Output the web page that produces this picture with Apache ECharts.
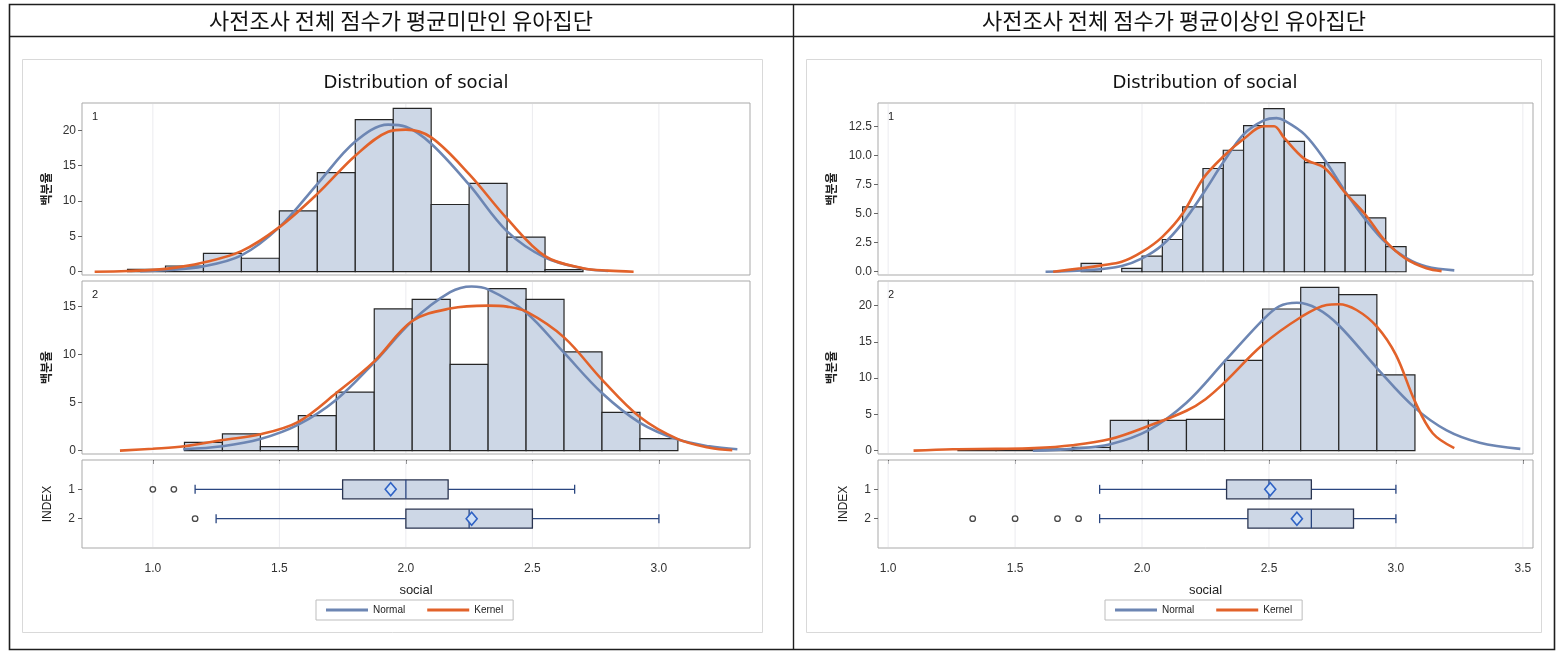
<!DOCTYPE html>
<html><head><meta charset="utf-8">
<script src="https://cdn.jsdelivr.net/npm/echarts@6/dist/echarts.min.js"></script>
<style>html,body{margin:0;padding:0;background:#fff}#c{width:1562px;height:653px}</style>
</head><body><div id="c"></div><script>
// ---------- DATA ----------
const headerLeft = '사전조사 전체 점수가 평균미만인 유아집단';
const headerRight = '사전조사 전체 점수가 평균이상인 유아집단';
const chartTitle = 'Distribution of social';
const yName = '백분율';
const boxAxisName = 'INDEX';
const xName = 'social';
const groupLabels = ['1', '2'];

// Left panel (below-average group)
const L1_edges = [0.90, 1.05, 1.20, 1.35, 1.50, 1.65, 1.80, 1.95, 2.10, 2.25, 2.40, 2.55, 2.70];
const L1_pct   = [0.33, 0.8, 2.6, 1.9, 8.6, 14.0, 21.5, 23.1, 9.5, 12.5, 4.9, 0.3];
const L1_normal = [[0.95,0.05],[1.05,0.2],[1.2,0.75],[1.35,2.3],[1.5,6.3],[1.65,12.4],[1.8,18.4],[1.93,20.8],[2.0,20.5],[2.1,18.1],[2.25,12.3],[2.4,5.7],[2.55,2.0],[2.7,0.45],[2.8,0.1]];
const L1_kernel = [[0.77,0.0],[0.9,0.1],[1.05,0.4],[1.2,1.3],[1.35,2.9],[1.5,6.3],[1.65,11.0],[1.8,16.4],[1.93,19.8],[2.0,20.1],[2.1,19.0],[2.25,13.8],[2.4,7.5],[2.55,2.2],[2.7,0.5],[2.8,0.15],[2.9,0.0]];

const L2_edges = [1.125, 1.275, 1.425, 1.575, 1.725, 1.875, 2.025, 2.175, 2.325, 2.475, 2.625, 2.775, 2.925, 3.075];
const L2_pct   = [0.87, 1.74, 0.42, 3.65, 6.1, 14.76, 15.76, 8.99, 16.88, 15.76, 10.28, 3.99, 1.25];
const L2_normal = [[1.12,0.14],[1.275,0.45],[1.425,1.2],[1.575,2.7],[1.725,5.3],[1.875,9.2],[2.025,13.5],[2.175,16.5],[2.26,17.1],[2.325,16.8],[2.475,14.4],[2.625,10.2],[2.775,6.0],[2.925,2.9],[3.075,1.15],[3.2,0.45],[3.31,0.14]];
const L2_kernel = [[0.87,0.0],[1.0,0.2],[1.125,0.45],[1.275,1.1],[1.425,1.7],[1.575,3.0],[1.725,6.0],[1.875,9.3],[2.025,13.5],[2.175,14.8],[2.325,15.1],[2.4,15.0],[2.475,14.5],[2.625,11.8],[2.775,7.4],[2.925,3.5],[3.075,1.2],[3.2,0.3],[3.29,0.05]];

// boxes: [row, whiskerLow, Q1, median, Q3, whiskerHigh, mean]
const L_boxes = [[1, 1.167, 1.75, 2.0, 2.167, 2.667, 1.94], [2, 1.25, 2.0, 2.25, 2.5, 3.0, 2.26]];
const L_outliers = [[1.0, 1], [1.083, 1], [1.167, 2]];
const L_ticks = [1.0, 1.5, 2.0, 2.5, 3.0];

// Right panel (above-average group)
const R1_edges = [1.76, 1.84, 1.92, 2.00, 2.08, 2.16, 2.24, 2.32, 2.40, 2.48, 2.56, 2.64, 2.72, 2.80, 2.88, 2.96, 3.04];
const R1_pct   = [0.72, 0, 0.29, 1.34, 2.77, 5.58, 8.87, 10.44, 12.56, 14.02, 11.21, 9.38, 9.38, 6.58, 4.63, 2.15];
const R1_normal = [[1.62,0.0],[1.8,0.15],[1.92,0.5],[2.0,1.15],[2.08,2.3],[2.16,4.2],[2.24,6.7],[2.32,9.4],[2.4,11.8],[2.48,13.0],[2.53,13.2],[2.56,13.0],[2.64,11.8],[2.72,9.6],[2.8,6.9],[2.88,4.5],[2.96,2.5],[3.04,1.2],[3.12,0.45],[3.23,0.12]];
const R1_kernel = [[1.65,0.0],[1.76,0.3],[1.84,0.55],[1.92,0.85],[2.0,1.7],[2.08,3.0],[2.16,5.0],[2.24,8.0],[2.32,9.9],[2.4,11.4],[2.48,12.5],[2.52,12.5],[2.56,11.5],[2.64,9.7],[2.72,8.9],[2.8,6.8],[2.88,4.9],[2.96,2.6],[3.04,1.1],[3.12,0.3],[3.18,0.05]];

const R2_edges = [1.275, 1.425, 1.575, 1.725, 1.875, 2.025, 2.175, 2.325, 2.475, 2.625, 2.775, 2.925, 3.075];
const R2_pct   = [0.22, 0.22, 0.22, 0.45, 4.18, 4.18, 4.32, 12.46, 19.54, 22.53, 21.52, 10.44];
const R2_normal = [[1.57,0.0],[1.725,0.25],[1.875,0.9],[2.025,2.8],[2.175,6.6],[2.325,12.3],[2.475,18.0],[2.54,19.9],[2.61,20.4],[2.69,19.6],[2.775,17.3],[2.925,11.4],[3.075,5.9],[3.2,2.8],[3.33,1.1],[3.49,0.25]];
const R2_kernel = [[1.10,0.0],[1.255,0.2],[1.425,0.25],[1.575,0.35],[1.725,0.75],[1.875,1.6],[2.025,3.4],[2.175,5.5],[2.25,7.1],[2.325,9.4],[2.475,14.6],[2.625,18.4],[2.727,20.1],[2.775,20.2],[2.845,19.4],[2.925,17.1],[3.0,13.2],[3.075,6.8],[3.145,2.4],[3.23,0.35]];

const R_boxes = [[1, 1.833, 2.333, 2.5, 2.667, 3.0, 2.505], [2, 1.833, 2.417, 2.667, 2.833, 3.0, 2.61]];
const R_outliers = [[1.333, 2], [1.5, 2], [1.667, 2], [1.75, 2]];
const R_ticks = [1.0, 1.5, 2.0, 2.5, 3.0, 3.5];

const L1_yTicks = [0, 5, 10, 15, 20];
const L2_yTicks = [0, 5, 10, 15];
const R1_yTicks = [0, 2.5, 5, 7.5, 10, 12.5];
const R2_yTicks = [0, 5, 10, 15, 20];
const boxRows = [1, 2];

// ---------- STYLE / LAYOUT ----------
const C_FILL = '#cdd7e6', C_EDGE = '#262626', C_NORMAL = '#6d86b3', C_KERNEL = '#e2622a';
const FONT = 'Liberation Sans';
const panels = [
  {left: 82, width: 668, xmin: 0.72, xmax: 3.36, ticks: L_ticks},
  {left: 878, width: 655, xmin: 0.96, xmax: 3.54, ticks: R_ticks}
];
const rows = [{top: 103, height: 172}, {top: 281, height: 173}, {top: 460, height: 88}];

const grids = [], xAxes = [], yAxes = [], series = [];
const yCfg = [
  [{min: -0.47, max: 23.86, ticks: L1_yTicks, dec: 0}, {min: -0.35, max: 17.67, ticks: L2_yTicks, dec: 0}],
  [{min: -0.28, max: 14.5, ticks: R1_yTicks, dec: 1}, {min: -0.46, max: 23.4, ticks: R2_yTicks, dec: 0}]
];
const histData = [[[L1_edges, L1_pct, L1_normal, L1_kernel], [L2_edges, L2_pct, L2_normal, L2_kernel]],
                  [[R1_edges, R1_pct, R1_normal, R1_kernel], [R2_edges, R2_pct, R2_normal, R2_kernel]]];
const boxData = [[L_boxes, L_outliers], [R_boxes, R_outliers]];

function gridLineSeries(xi, yi, ticks) {
  return {type: 'custom', xAxisIndex: xi, yAxisIndex: yi, silent: true, z: 1,
    data: ticks.map(t => [t, 0]), encode: {x: 0, y: 1},
    renderItem(params, api) {
      const cs = params.coordSys;
      const x = api.coord([api.value(0), 0])[0];
      return {type: 'line', shape: {x1: x, y1: cs.y + 1, x2: x, y2: cs.y + cs.height - 1},
        style: {stroke: '#ebebef', lineWidth: 1}};
    }};
}
function histSeries(xi, yi, edges, pct) {
  return {type: 'custom', xAxisIndex: xi, yAxisIndex: yi, silent: true, z: 2,
    data: pct.map((v, i) => [edges[i], edges[i + 1], v]), encode: {x: [0, 1], y: 2},
    renderItem(params, api) {
      const h = api.value(2);
      if (h <= 0) return null;
      const p0 = api.coord([api.value(0), 0]), p1 = api.coord([api.value(1), h]);
      return {type: 'rect', shape: {x: p0[0], y: p1[1], width: p1[0] - p0[0], height: p0[1] - p1[1]},
        style: {fill: C_FILL, stroke: C_EDGE, lineWidth: 1.2}};
    }};
}
function curve(name, color, xi, yi, pts) {
  return {type: 'line', name, xAxisIndex: xi, yAxisIndex: yi, data: pts, smooth: 0.35,
    showSymbol: false, silent: true, z: 4, itemStyle: {color},
    lineStyle: {color, width: 2.6}};
}
function boxSeries(xi, yi, boxes) {
  return {type: 'custom', xAxisIndex: xi, yAxisIndex: yi, silent: true, z: 3,
    data: boxes, encode: {x: [1, 2, 3, 4, 5, 6], y: 0},
    renderItem(params, api) {
      const r = api.value(0);
      const P = v => api.coord([v, r]);
      const lo = P(api.value(1)), q1 = P(api.value(2)), md = P(api.value(3)),
            q3 = P(api.value(4)), hi = P(api.value(5)), mn = P(api.value(6));
      const y = lo[1], bh = 9.5, ch = 4.5, wc = '#2a4680';
      const dx = 5.5, dy = 6.5;
      return {type: 'group', children: [
        {type: 'line', shape: {x1: lo[0], y1: y, x2: q1[0], y2: y}, style: {stroke: wc, lineWidth: 1.3}},
        {type: 'line', shape: {x1: q3[0], y1: y, x2: hi[0], y2: y}, style: {stroke: wc, lineWidth: 1.3}},
        {type: 'line', shape: {x1: lo[0], y1: y - ch, x2: lo[0], y2: y + ch}, style: {stroke: wc, lineWidth: 1.3}},
        {type: 'line', shape: {x1: hi[0], y1: y - ch, x2: hi[0], y2: y + ch}, style: {stroke: wc, lineWidth: 1.3}},
        {type: 'rect', shape: {x: q1[0], y: y - bh, width: q3[0] - q1[0], height: 2 * bh},
          style: {fill: C_FILL, stroke: '#2b3550', lineWidth: 1.3}},
        {type: 'line', shape: {x1: md[0], y1: y - bh, x2: md[0], y2: y + bh}, style: {stroke: wc, lineWidth: 1.3}},
        {type: 'polygon', shape: {points: [[mn[0], y - dy], [mn[0] + dx, y], [mn[0], y + dy], [mn[0] - dx, y]]},
          style: {fill: '#cfe0f6', stroke: '#2f62c4', lineWidth: 1.6}}
      ]};
    }};
}

panels.forEach((p, pi) => {
  rows.forEach((r, ri) => {
    const gi = pi * 3 + ri;
    grids.push({left: p.left, width: p.width, top: r.top, height: r.height, show: true,
      borderColor: '#a9a9a9', borderWidth: 1, backgroundColor: 'transparent'});
    const isBox = ri === 2;
    xAxes.push({type: 'value', gridIndex: gi, min: p.xmin, max: p.xmax,
      axisLine: {show: false}, splitLine: {show: false},
      axisTick: {show: isBox, length: 4, customValues: p.ticks, lineStyle: {color: '#666'}},
      axisLabel: {show: isBox, customValues: p.ticks, margin: 15, fontSize: 12, color: '#333', fontFamily: FONT,
        formatter: v => v.toFixed(1)},
      name: isBox ? xName : '', nameLocation: 'middle', nameGap: 36,
      nameTextStyle: {fontSize: 13, color: '#222', fontFamily: FONT}});
    if (isBox) {
      yAxes.push({type: 'value', gridIndex: gi, min: 0, max: 3, inverse: true,
        axisLine: {show: false}, splitLine: {show: false},
        axisTick: {show: true, length: 4, customValues: boxRows, lineStyle: {color: '#666'}},
        axisLabel: {customValues: boxRows, margin: 7, fontSize: 12, color: '#333', fontFamily: FONT,
          formatter: v => groupLabels[v - 1]},
        name: boxAxisName, nameLocation: 'middle', nameRotate: 90, nameGap: 28,
        nameTextStyle: {fontSize: 12, color: '#222', fontFamily: FONT}});
    } else {
      const c = yCfg[pi][ri];
      yAxes.push({type: 'value', gridIndex: gi, min: c.min, max: c.max,
        axisLine: {show: false}, splitLine: {show: false},
        axisTick: {show: true, length: 4, customValues: c.ticks, lineStyle: {color: '#666'}},
        axisLabel: {customValues: c.ticks, margin: 6, fontSize: 12, color: '#333', fontFamily: FONT,
          formatter: v => v.toFixed(c.dec)},
        name: yName, nameLocation: 'middle', nameRotate: 90, nameGap: pi === 0 ? 30 : 41,
        nameTextStyle: {fontSize: 12, fontWeight: 'bold', color: '#222', fontFamily: 'Noto Sans CJK KR'}});
    }
    series.push(gridLineSeries(gi, gi, p.ticks));
    if (!isBox) {
      const [edges, pct, nrm, ker] = histData[pi][ri];
      series.push(histSeries(gi, gi, edges, pct));
      series.push(curve('Normal', C_NORMAL, gi, gi, nrm));
      series.push(curve('Kernel', C_KERNEL, gi, gi, ker));
    } else {
      const [boxes, outl] = boxData[pi];
      series.push(boxSeries(gi, gi, boxes));
      series.push({type: 'scatter', xAxisIndex: gi, yAxisIndex: gi, data: outl, silent: true, z: 5,
        symbol: 'circle', symbolSize: 5.5,
        itemStyle: {color: '#fff', borderColor: '#1a1a1a', borderWidth: 1.3}});
    }
  });
});

const legendBase = {data: ['Normal', 'Kernel'], top: 600, icon: 'rect', itemWidth: 42, itemHeight: 3,
  itemGap: 22, padding: [5, 10], borderColor: '#bdbdbd', borderWidth: 1, selectedMode: false,
  textStyle: {fontSize: 10, color: '#222', fontFamily: FONT}};

const graphic = [
  {type: 'rect', shape: {x: 9.5, y: 4.5, width: 1545, height: 645}, style: {fill: 'none', stroke: '#1e1e1e', lineWidth: 1.6}, silent: true},
  {type: 'line', shape: {x1: 9.5, y1: 36.5, x2: 1554.5, y2: 36.5}, style: {stroke: '#1e1e1e', lineWidth: 1.4}, silent: true},
  {type: 'line', shape: {x1: 793.5, y1: 4.5, x2: 793.5, y2: 649.5}, style: {stroke: '#1e1e1e', lineWidth: 1.4}, silent: true},
  {type: 'rect', shape: {x: 22.5, y: 59.5, width: 740, height: 573}, style: {fill: 'none', stroke: '#d9d9d9', lineWidth: 1}, silent: true},
  {type: 'rect', shape: {x: 806.5, y: 59.5, width: 735, height: 573}, style: {fill: 'none', stroke: '#d9d9d9', lineWidth: 1}, silent: true},
  {type: 'text', x: 401, y: 21, style: {text: headerLeft, fontSize: 22, fill: '#111', fontFamily: 'Noto Sans CJK KR', align: 'center', verticalAlign: 'middle'}},
  {type: 'text', x: 1174, y: 21, style: {text: headerRight, fontSize: 22, fill: '#111', fontFamily: 'Noto Sans CJK KR', align: 'center', verticalAlign: 'middle'}},
  {type: 'text', x: 416, y: 83, style: {text: chartTitle, fontSize: 18, fill: '#111', fontFamily: 'DejaVu Sans', align: 'center', verticalAlign: 'middle'}},
  {type: 'text', x: 1205, y: 83, style: {text: chartTitle, fontSize: 18, fill: '#111', fontFamily: 'DejaVu Sans', align: 'center', verticalAlign: 'middle'}},
  {type: 'text', x: 92, y: 117, style: {text: groupLabels[0], fontSize: 11, fill: '#222', fontFamily: FONT, verticalAlign: 'middle'}},
  {type: 'text', x: 92, y: 295, style: {text: groupLabels[1], fontSize: 11, fill: '#222', fontFamily: FONT, verticalAlign: 'middle'}},
  {type: 'text', x: 888, y: 117, style: {text: groupLabels[0], fontSize: 11, fill: '#222', fontFamily: FONT, verticalAlign: 'middle'}},
  {type: 'text', x: 888, y: 295, style: {text: groupLabels[1], fontSize: 11, fill: '#222', fontFamily: FONT, verticalAlign: 'middle'}}
];

const chart = echarts.init(document.getElementById('c'));
chart.setOption({
  animation: false,
  backgroundColor: '#fff',
  grid: grids, xAxis: xAxes, yAxis: yAxes, series,
  legend: [Object.assign({left: 316}, legendBase), Object.assign({left: 1105}, legendBase)],
  graphic
});
</script></body></html>
